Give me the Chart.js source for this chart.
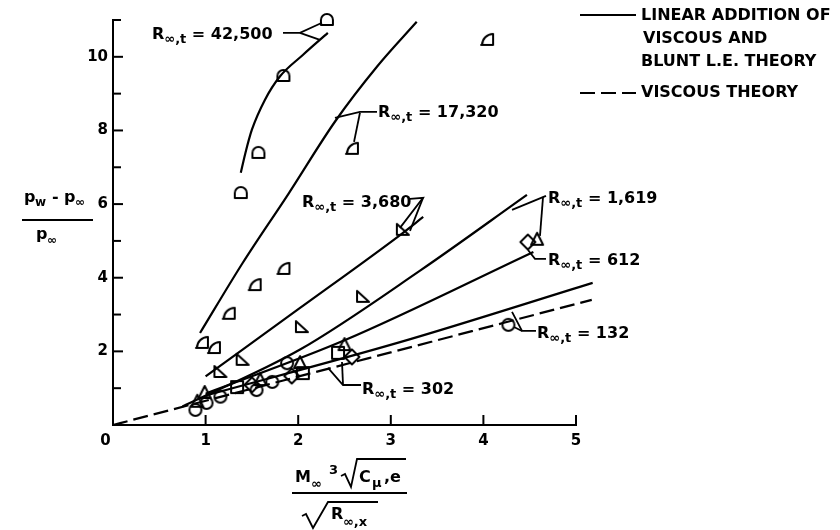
<!DOCTYPE html>
<html><head><meta charset="utf-8">
<script src="https://cdn.jsdelivr.net/npm/chart.js@4.4.1/dist/chart.umd.min.js"></script>
<style>html,body{margin:0;padding:0;background:#fff}#wrap{width:840px;height:530px;position:relative}</style>
</head><body><div id="wrap"><canvas id="c" width="840" height="530"></canvas></div>
<script>
const FONT = '"DejaVu Sans", sans-serif';

// ---- tick values ----
const xTickValues = [0, 1, 2, 3, 4, 5];
const xTickLabels = ['0\u2002\u2002', '1', '2', '3', '4', '5'];
const yTickValues = [0, 1, 2, 3, 4, 5, 6, 7, 8, 9, 10, 11];
const yTickLabels = ['', '', '2', '', '4', '', '6', '', '8', '', '10', ''];

// ---- theory curves (linear addition of viscous and blunt L.E. theory) ----
const c42500X = [1.38, 1.43, 1.50, 1.64, 1.80, 2.05, 2.32];
const c42500Y = [6.85, 7.39, 8.02, 8.83, 9.46, 10.05, 10.65];
const c17320X = [0.94, 1.40, 1.90, 2.40, 2.85, 3.28];
const c17320Y = [2.50, 4.40, 6.30, 8.25, 9.73, 10.95];
const c3680X = [1.00, 2.02, 3.10, 3.35];
const c3680Y = [1.32, 3.18, 5.16, 5.65];
const c1619X = [0.75, 2.02, 3.32, 4.47];
const c1619Y = [0.50, 2.05, 4.20, 6.25];
const c612X = [1.00, 2.50, 4.54];
const c612Y = [0.85, 2.30, 4.70];
const c132X = [1.00, 3.10, 5.18];
const c132Y = [0.80, 2.25, 3.86];
// ---- viscous theory (dashed) ----
const viscX = [0, 5.17];
const viscY = [0, 3.40];

// ---- measured points ----
const m42500X = [1.38, 1.57, 1.84, 2.31];
const m42500Y = [6.30, 7.39, 9.48, 11.00];
const m17320X = [0.96, 1.09, 1.25, 1.53, 1.84, 2.58, 4.04];
const m17320Y = [2.23, 2.09, 3.02, 3.80, 4.24, 7.50, 10.46];
const m3680X = [1.16, 1.40, 2.04, 2.70, 3.13];
const m3680Y = [1.44, 1.77, 2.66, 3.48, 5.30];
const m1619X = [0.91, 0.99, 1.59, 2.02, 2.50, 4.58];
const m1619Y = [0.63, 0.87, 1.22, 1.68, 2.17, 5.03];
const m612X = [1.50, 1.93, 2.58, 4.48];
const m612Y = [1.09, 1.33, 1.85, 4.97];
const m302X = [1.34, 2.05, 2.43];
const m302Y = [1.03, 1.41, 1.96];
const m132X = [0.89, 1.01, 1.16, 1.55, 1.72, 1.88, 4.27];
const m132Y = [0.41, 0.60, 0.77, 0.95, 1.17, 1.68, 2.72];

// ---- annotation labels (data coordinates) ----
const labelTexts = ['42,500', '17,320', '3,680', '1,619', '612', '132', '302'];
const labelAt = [[0.421, 10.65], [2.862, 8.533], [2.041, 6.087], [4.698, 6.196], [4.698, 4.511], [4.579, 2.527], [2.689, 1.005]];
const leaders = [
  [[[1.836, 10.652], [2.019, 10.652], [2.257, 10.924]], [[2.019, 10.652], [2.235, 10.462]]],
  [[[2.397, 8.342], [2.667, 8.505], [2.851, 8.505]], [[2.667, 8.48], [2.603, 7.69]]],
  [[[3.207, 6.141], [3.348, 6.168], [3.099, 5.353]], [[3.348, 6.168], [3.207, 5.272]]],
  [[[4.676, 6.223], [4.309, 5.842]], [[4.644, 6.196], [4.611, 5.136]]],
  [[[4.676, 4.511], [4.557, 4.511], [4.482, 4.755]]],
  [[[4.568, 2.554], [4.417, 2.554], [4.309, 3.071]], [[4.417, 2.554], [4.330, 2.663]]],
  [[[2.678, 1.087], [2.484, 1.087], [2.322, 1.549]], [[2.484, 1.087], [2.473, 1.712]]]
];

function pts(xs, ys) { return xs.map((x, i) => ({ x: x, y: ys[i] })); }

function marker(type) {
  const s = 20, cv = document.createElement('canvas');
  cv.width = s; cv.height = s;
  const g = cv.getContext('2d');
  g.strokeStyle = '#000'; g.lineWidth = 2; g.lineJoin = 'round';
  const c = s / 2, r = 6;
  g.beginPath();
  if (type === 'circle') { g.arc(c, c, r, 0, 2 * Math.PI); }
  else if (type === 'square') { g.rect(c - r, c - r, 2 * r, 2 * r); }
  else if (type === 'diamond') { g.moveTo(c, c - r - 1.5); g.lineTo(c + r + 1.5, c); g.lineTo(c, c + r + 1.5); g.lineTo(c - r - 1.5, c); g.closePath(); }
  else if (type === 'tri') { g.moveTo(c, c - r - 1); g.lineTo(c + r, c + r - 1); g.lineTo(c - r, c + r - 1); g.closePath(); }
  else if (type === 'rtri') { g.moveTo(c - r, c - r); g.lineTo(c + r, c + r - 1); g.lineTo(c - r, c + r - 1); g.closePath(); }
  else if (type === 'quarter') { g.moveTo(c + r, c + r - 1); g.lineTo(c - r, c + r - 1); g.arc(c + r, c + r - 1, 2 * r - 1, Math.PI, 1.5 * Math.PI); g.closePath(); }
  else if (type === 'arch') { g.moveTo(c - r, c + r - 1); g.lineTo(c - r, c); g.arc(c, c, r, Math.PI, 0); g.lineTo(c + r, c + r - 1); g.closePath(); }
  g.stroke();
  return cv;
}

function lineDs(xs, ys, dashed) {
  return { data: pts(xs, ys), showLine: true, borderColor: '#000', borderWidth: 2.2, pointRadius: 0,
    cubicInterpolationMode: 'monotone', borderDash: dashed ? [15, 6] : [], clip: false, fill: false };
}
function markDs(xs, ys, type) {
  return { data: pts(xs, ys), showLine: false, pointStyle: marker(type), pointRadius: 7, clip: false };
}

const datasets = [
  lineDs(c42500X, c42500Y), lineDs(c17320X, c17320Y), lineDs(c3680X, c3680Y),
  lineDs(c1619X, c1619Y), lineDs(c612X, c612Y), lineDs(c132X, c132Y), lineDs(viscX, viscY, true),
  markDs(m42500X, m42500Y, 'arch'), markDs(m17320X, m17320Y, 'quarter'), markDs(m3680X, m3680Y, 'rtri'),
  markDs(m1619X, m1619Y, 'tri'), markDs(m612X, m612Y, 'diamond'), markDs(m302X, m302Y, 'square'),
  markDs(m132X, m132Y, 'circle')
];

function rLabel(ctx, x, y, val) {
  ctx.textBaseline = 'alphabetic'; ctx.textAlign = 'left';
  const base = y + 6;
  ctx.font = 'bold 16px ' + FONT; ctx.fillText('R', x, base);
  let w = ctx.measureText('R').width;
  ctx.font = 'bold 13px ' + FONT; ctx.fillText('\u221e,t', x + w, base + 4);
  w += ctx.measureText('\u221e,t').width;
  ctx.font = 'bold 16px ' + FONT; ctx.fillText(' = ' + val, x + w, base);
}

function poly(ctx, p) {
  ctx.beginPath(); ctx.moveTo(p[0][0], p[0][1]);
  for (let i = 1; i < p.length; i++) ctx.lineTo(p[i][0], p[i][1]);
  ctx.stroke();
}

const decor = {
  id: 'decor',
  afterDraw(chart) {
    const ctx = chart.ctx, xs = chart.scales.x, ys = chart.scales.y, a = chart.chartArea;
    const X = v => xs.getPixelForValue(v), Y = v => ys.getPixelForValue(v);
    ctx.save();
    ctx.strokeStyle = '#000'; ctx.fillStyle = '#000'; ctx.lineWidth = 2; ctx.lineCap = 'butt';
    // inward ticks
    yTickValues.forEach(v => { if (v === 0) return; const py = Y(v); poly(ctx, [[a.left, py], [a.left + (v % 2 ? 8 : 10), py]]); });
    xTickValues.forEach(v => { if (v === 0) return; const px = X(v); poly(ctx, [[px, a.bottom], [px, a.bottom - 10]]); });
    // leaders + labels
    ctx.lineWidth = 1.8;
    leaders.forEach(group => group.forEach(l => poly(ctx, l.map(p => [X(p[0]), Y(p[1])]))));
    labelTexts.forEach((t, i) => rLabel(ctx, X(labelAt[i][0]), Y(labelAt[i][1]), t));
    // legend
    ctx.lineWidth = 2;
    poly(ctx, [[580, 15], [636, 15]]);
    ctx.setLineDash([15, 6]); poly(ctx, [[580, 93], [636, 93]]); ctx.setLineDash([]);
    ctx.font = 'bold 16px ' + FONT; ctx.textBaseline = 'middle'; ctx.textAlign = 'left';
    ctx.fillText('LINEAR ADDITION OF', 641, 16);
    ctx.fillText('VISCOUS AND', 643, 39);
    ctx.fillText('BLUNT L.E. THEORY', 641, 62);
    ctx.fillText('VISCOUS THEORY', 641, 93);
    // y-axis title
    ctx.textBaseline = 'alphabetic';
    ctx.font = 'bold 16px ' + FONT; ctx.fillText('p', 24, 202);
    ctx.font = 'bold 12px ' + FONT; ctx.fillText('w', 35, 206);
    ctx.font = 'bold 16px ' + FONT; ctx.fillText('-', 52, 202); ctx.fillText('p', 64, 202);
    ctx.font = 'bold 12px ' + FONT; ctx.fillText('\u221e', 75, 206);
    ctx.lineWidth = 2; poly(ctx, [[22, 220], [93, 220]]);
    ctx.font = 'bold 16px ' + FONT; ctx.fillText('p', 36, 239);
    ctx.font = 'bold 12px ' + FONT; ctx.fillText('\u221e', 47, 244);
    // x-axis title
    ctx.font = 'bold 16px ' + FONT; ctx.fillText('M', 295, 482);
    ctx.font = 'bold 13px ' + FONT; ctx.fillText('\u221e', 311, 488);
    ctx.font = 'bold 13px ' + FONT; ctx.fillText('3', 329, 474);
    ctx.lineWidth = 1.8;
    poly(ctx, [[341, 476], [345, 474], [351, 487], [357, 459], [406, 459]]);
    ctx.font = 'bold 16px ' + FONT; ctx.fillText('C', 359, 482);
    ctx.font = 'bold 13px ' + FONT; ctx.fillText('\u03bc', 372, 487);
    ctx.font = 'bold 16px ' + FONT; ctx.fillText(',e', 384, 482);
    ctx.lineWidth = 2; poly(ctx, [[292, 493], [407, 493]]);
    ctx.lineWidth = 1.8;
    poly(ctx, [[302, 516], [306, 514], [313, 528], [328, 502], [378, 502]]);
    ctx.font = 'bold 16px ' + FONT; ctx.fillText('R', 331, 519);
    ctx.font = 'bold 13px ' + FONT; ctx.fillText('\u221e,x', 343, 526);
    ctx.restore();
  }
};

new Chart(document.getElementById('c'), {
  type: 'scatter',
  data: { datasets: datasets },
  options: {
    responsive: false, animation: false, devicePixelRatio: 1,
    layout: { padding: { left: 0, top: 20, right: 264, bottom: 0 } },
    plugins: { legend: { display: false }, tooltip: { enabled: false } },
    scales: {
      x: {
        type: 'linear', min: 0, max: 5,
        afterBuildTicks: s => { s.ticks = xTickValues.map(v => ({ value: v })); },
        afterFit: s => { s.height = 105; },
        ticks: { color: '#000', font: { family: FONT, size: 15, weight: 'bold' }, padding: 7,
          callback: v => xTickLabels[xTickValues.indexOf(v)] },
        grid: { display: false, drawTicks: false },
        border: { display: true, color: '#000', width: 2 }
      },
      y: {
        type: 'linear', min: 0, max: 11,
        afterBuildTicks: s => { s.ticks = yTickValues.map(v => ({ value: v })); },
        afterFit: s => { s.width = 113; },
        ticks: { color: '#000', font: { family: FONT, size: 15, weight: 'bold' }, padding: 5,
          callback: (v) => yTickLabels[yTickValues.indexOf(v)] },
        grid: { display: false, drawTicks: false },
        border: { display: true, color: '#000', width: 2 }
      }
    }
  },
  plugins: [decor]
});
</script></body></html>
